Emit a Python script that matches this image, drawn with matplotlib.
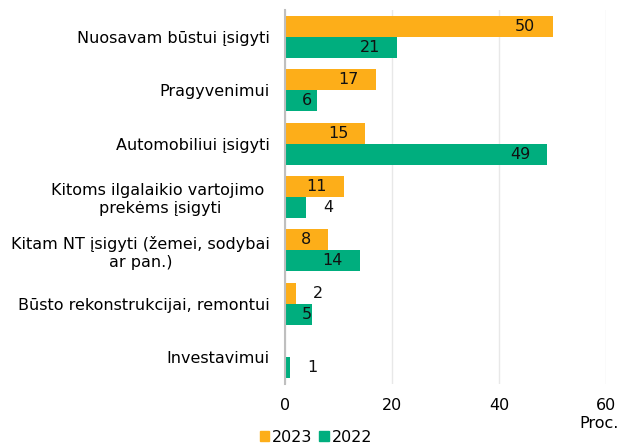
import matplotlib
matplotlib.use("Agg")
import matplotlib.pyplot as plt
import numpy as np
from matplotlib.patches import Patch

categories = ["Nuosavam būstui įsigyti", "Pragyvenimui", "Automobiliui įsigyti",
              "Kitoms ilgalaikio vartojimo \nprekėms įsigyti",
              "Kitam NT įsigyti (žemei, sodybai\nar pan.)",
              "Būsto rekonstrukcijai, remontui", "Investavimui"]
v2023 = [50, 17, 15, 11, 8, 2, 0]
v2022 = [21, 6, 49, 4, 14, 5, 1]
series_names = ["2023", "2022"]
colors = ["#FDAE19", "#00AE7E"]
xticks = [0, 20, 40, 60]

FS = 11.5
plt.rcParams['font.family'] = ['DejaVu Sans']
fig = plt.figure(figsize=(6.22, 4.47), dpi=100)
ax = fig.add_axes([285 / 622, 1 - 384 / 447, (606 - 285) / 622, (384 - 10) / 447])

n = len(categories)
y = np.arange(n)
h = 0.393
ax.barh(y - h / 2, v2023, height=h, color=colors[0], zorder=3)
ax.barh(y + h / 2, v2022, height=h, color=colors[1], zorder=3)

ax.set_ylim(n - 0.5, -0.5)
ax.set_xlim(0, 60)
px_per_unit = (606 - 285) / 60.0
GAP = 17
for vals, off in ((v2023, -h / 2), (v2022, h / 2)):
    for i, v in enumerate(vals):
        if v == 0:
            continue
        s = str(v)
        wpx = 9.5 * len(s)
        if v >= 5:
            if v * px_per_unit - GAP - wpx < 16:
                ax.annotate(s, (0, i + off), xytext=(GAP, 0), textcoords="offset pixels",
                            ha="left", va="center", fontsize=FS, color="#111111", zorder=4)
            else:
                ax.annotate(s, (v, i + off), xytext=(-GAP, 0), textcoords="offset pixels",
                            ha="right", va="center", fontsize=FS, color="#111111", zorder=4)
        else:
            ax.annotate(s, (v, i + off), xytext=(GAP, 0), textcoords="offset pixels",
                        ha="left", va="center", fontsize=FS, color="#111111", zorder=4)

ax.set_xticks(xticks)
ax.set_xticklabels([str(t) for t in xticks], fontsize=FS)
ax.set_yticks(y)
ax.set_yticklabels(categories, fontsize=FS, multialignment="center")
ax.tick_params(axis="both", length=0)
ax.tick_params(axis="y", pad=11)
ax.tick_params(axis="x", pad=10)
ax.grid(axis="x", color="#E8E8E8", linewidth=1, zorder=0)
for s in ["top", "right"]:
    ax.spines[s].set_visible(False)
ax.spines["bottom"].set_visible(False)
ax.spines["left"].set_color("#BFBFBF")
ax.spines["left"].set_linewidth(1.5)
ax.spines["left"].set_zorder(5)

fig.text(619 / 622, 1 - 424 / 447, "Proc.", ha="right", va="center", fontsize=FS)
handles = [Patch(color=c) for c in colors]
fig.legend(handles, series_names, loc="center", bbox_to_anchor=(316 / 622, 1 - 437 / 447),
           ncol=2, frameon=False, fontsize=FS, handlelength=0.6, handleheight=0.6,
           handletextpad=0.2, columnspacing=0.4)

fig.savefig("out.png", dpi=100)
